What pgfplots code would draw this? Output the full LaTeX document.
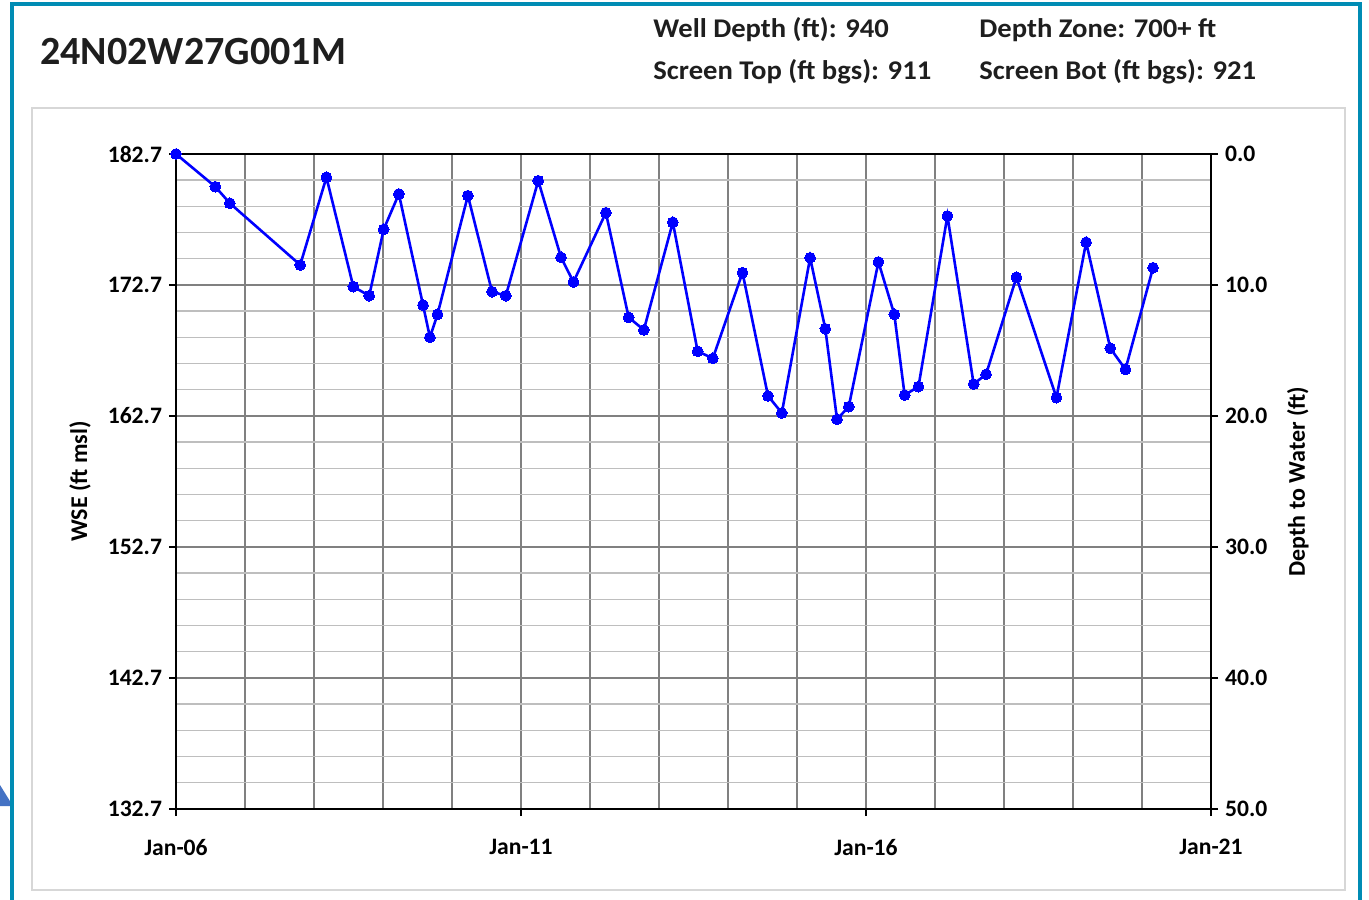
\documentclass[border=0pt]{standalone}
\usepackage{fontspec}
\setmainfont{Carlito}
\usepackage{pgfplots}
\pgfplotsset{compat=1.18}
\definecolor{teal1}{RGB}{0,140,180}
\definecolor{gridmaj}{RGB}{128,128,128}
\definecolor{gridmin}{RGB}{190,190,190}
\definecolor{panel}{RGB}{215,215,215}
\definecolor{tri}{RGB}{68,114,196}
\definecolor{txt}{RGB}{30,30,30}
\pgfplotstableread{
x y
2006.00 182.70
2006.57 180.20
2006.78 178.94
2007.80 174.23
2008.18 180.92
2008.57 172.57
2008.80 171.88
2009.01 176.95
2009.23 179.65
2009.58 171.17
2009.68 168.71
2009.79 170.46
2010.23 179.52
2010.58 172.19
2010.78 171.88
2011.25 180.66
2011.58 174.81
2011.76 172.93
2012.23 178.22
2012.56 170.23
2012.78 169.27
2013.20 177.49
2013.56 167.64
2013.78 167.10
2014.21 173.64
2014.58 164.23
2014.78 162.93
2015.19 174.78
2015.41 169.36
2015.58 162.45
2015.75 163.41
2016.18 174.46
2016.41 170.46
2016.56 164.30
2016.76 164.94
2017.18 177.97
2017.56 165.14
2017.74 165.88
2018.18 173.29
2018.76 164.10
2019.19 175.96
2019.54 167.87
2019.76 166.26
2020.16 174.02
}\wsedata
\begin{document}
\begin{tikzpicture}
\path[use as bounding box] (0pt,0pt) rectangle (684.5pt,449.5pt);
\fill[tri] (0pt,57pt) -- (6.5pt,46.5pt) -- (0pt,46.5pt) -- cycle;
\draw[teal1, line width=2pt] (6pt,-2pt) -- (6pt,447.25pt) -- (679.75pt,447.25pt) -- (679.75pt,-2pt);
\draw[panel, line width=1pt] (16pt,395.5pt) rectangle (672.5pt,4.5pt);
\node[anchor=base west, inner sep=0pt, text=txt, font=\fontsize{20}{24}\selectfont\bfseries] at (20pt,417pt) {24N02W27G001M};
\begin{scope}[every node/.style={anchor=base west, inner sep=0pt, text=txt, xscale=1.06, font=\fontsize{13.5}{16}\selectfont\bfseries}]
\node at (326.5pt,430.75pt) {Well Depth (ft): 940};
\node at (326.5pt,409.75pt) {Screen Top (ft bgs): 911};
\node at (489.5pt,430.75pt) {Depth Zone: 700+ ft};
\node at (489.5pt,409.75pt) {Screen Bot (ft bgs): 921};
\end{scope}
% grid axis
\begin{axis}[at={(88pt,45pt)}, anchor=south west, scale only axis, width=517.5pt, height=327.5pt,
  xmin=2006, xmax=2021, ymin=132.7, ymax=182.7,
  xtick={2006,2007,...,2021},
  ytick={132.7,142.7,152.7,162.7,172.7,182.7},
  minor ytick={134.7,136.7,138.7,140.7,144.7,146.7,148.7,150.7,154.7,156.7,158.7,160.7,164.7,166.7,168.7,170.7,174.7,176.7,178.7,180.7},
  xticklabels={}, yticklabels={},
  xmajorgrids, ymajorgrids, yminorgrids,
  major grid style={gridmaj, line width=0.8pt},
  minor grid style={gridmin, line width=0.7pt},
  major tick length=0pt, minor tick length=0pt,
  axis line style={draw=none}]
\end{axis}
% left / bottom ticks
\begin{axis}[at={(88pt,45pt)}, anchor=south west, scale only axis, width=517.5pt, height=327.5pt,
  xmin=2006, xmax=2021, ymin=132.7, ymax=182.7,
  xtick={2006,2011,2016,2021},
  xticklabels={Jan-06,Jan-11,Jan-16,Jan-21},
  ytick={132.7,142.7,152.7,162.7,172.7,182.7},
  yticklabels={132.7,142.7,152.7,162.7,172.7,182.7},
  tick align=outside, tick pos=left, major tick length=3.5pt,
  tick style={black, line width=0.8pt},
  axis line style={black, line width=1pt},
  ticklabel style={font=\fontsize{11.8}{14}\selectfont\bfseries, text=black},
  xticklabel shift=8pt,
  ylabel={WSE (ft msl)},
  ylabel style={at={(rel axis cs:-0.0928,0.5)}, anchor=center, font=\fontsize{12}{14}\selectfont\bfseries}]
\end{axis}
% right axis
\begin{axis}[at={(88pt,45pt)}, anchor=south west, scale only axis, width=517.5pt, height=327.5pt,
  xmin=2006, xmax=2021, ymin=0, ymax=50, y dir=reverse,
  axis x line=none, axis y line*=right,
  ytick={0,10,20,30,40,50},
  yticklabels={0.0,10.0,20.0,30.0,40.0,50.0},
  tick align=outside, major tick length=3.5pt,
  tick style={black, line width=0.8pt},
  axis line style={black, line width=1pt},
  ticklabel style={font=\fontsize{11.8}{14}\selectfont\bfseries, text=black},
  ylabel={Depth to Water (ft)},
  ylabel style={at={(rel axis cs:1.084,0.5)}, anchor=center, rotate=0, font=\fontsize{12}{14}\selectfont\bfseries}]
\end{axis}
% data
\begin{axis}[at={(88pt,45pt)}, anchor=south west, scale only axis, width=517.5pt, height=327.5pt,
  xmin=2006, xmax=2021, ymin=132.7, ymax=182.7, hide axis, clip=false]
\addplot[color=blue, line width=1.3pt, mark=*, mark size=2.7pt, mark options={fill=blue, draw=blue, line width=0pt}] table[x=x,y=y] {\wsedata};
\end{axis}
\end{tikzpicture}
\end{document}
